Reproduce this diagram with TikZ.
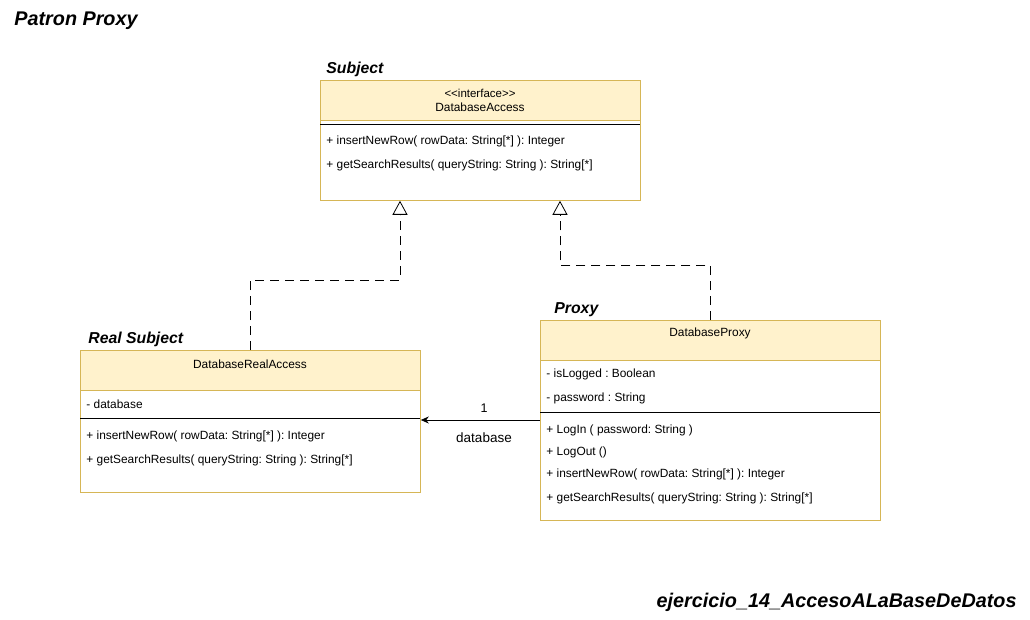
\documentclass[tikz,border=0pt]{standalone}
\usepackage{fontspec}
\setmainfont{Liberation Sans}
\usetikzlibrary{arrows.meta, calc, positioning}

\definecolor{umlfill}{HTML}{FFF2CC}
\definecolor{umlline}{HTML}{D6B656}
\frenchspacing

\tikzset{
  head/.style={draw=umlline, fill=umlfill, minimum height=40, inner sep=0, anchor=north west},
  body/.style={draw=umlline, fill=white, inner sep=0, anchor=north west},
  member/.style={anchor=west, inner sep=0, font=\fontsize{11.9}{13}\selectfont},
  cname/.style={inner sep=0, font=\fontsize{11.9}{13}\selectfont},
  role/.style={anchor=south west, inner sep=0, font=\fontsize{15.8}{17}\selectfont\bfseries\itshape},
  realize/.style={dashed, dash pattern=on 9pt off 6pt, -{Triangle[open, length=14pt, width=15pt]}},
  assoc/.style={-{Stealth[length=8pt, width=7pt]}}
}

\begin{document}
\begin{tikzpicture}[x=1pt, y=-1pt, line width=0.8pt]
\useasboundingbox (0,0) rectangle (1030,620);
\node[anchor=west, inner sep=0, font=\fontsize{19.8}{22}\selectfont\bfseries\itshape] (title) at (14,21) {Patron Proxy};
\node[anchor=east, inner sep=0, font=\fontsize{19.8}{22}\selectfont\bfseries\itshape] (file) at (1017,602) {ejercicio\_14\_AccesoALaBaseDeDatos};

  \begin{scope}
\node[body, minimum width=320, minimum height=80] (subjb) at (320,120) {};
\node[head, minimum width=320] (subj) at (320,80) {};
\node[role] (subjr) at (326,77) {Subject};
\node[cname, font=\fontsize{11.5}{12}\selectfont] at (480,93) {<{}<interface>{}>};
\node[cname] at (480,107) {DatabaseAccess};
\draw (320,124) -- (640,124);
\node[member] at (326,141) {+ insertNewRow( rowData: String[*] ): Integer};
\node[member] at (326,165) {+ getSearchResults( queryString: String ): String[*]};
  \end{scope}

  \begin{scope}
\node[body, minimum width=340, minimum height=102] (realb) at (80,390) {};
\node[head, minimum width=340] (real) at (80,350) {};
\node[role] (realr) at (88,347) {Real Subject};
\node[cname] at (250,364) {DatabaseRealAccess};
\node[member] at (86,404) {- database};
\draw (80,418) -- (420,418);
\node[member] at (86,436) {+ insertNewRow( rowData: String[*] ): Integer};
\node[member] at (86,460) {+ getSearchResults( queryString: String ): String[*]};
  \end{scope}

  \begin{scope}
\node[body, minimum width=340, minimum height=160] (proxb) at (540,360) {};
\node[head, minimum width=340] (prox) at (540,320) {};
\node[role] (proxr) at (554,317) {Proxy};
\node[cname] at (710,333) {DatabaseProxy};
\node[member] at (546,374) {- isLogged : Boolean};
\node[member] at (546,398) {- password : String};
\draw (540,412) -- (880,412);
\node[member] at (546,430) {+ LogIn ( password: String )};
\node[member] at (546,452) {+ LogOut ()};
\node[member] at (546,474) {+ insertNewRow( rowData: String[*] ): Integer};
\node[member] at (546,498) {+ getSearchResults( queryString: String ): String[*]};
  \end{scope}

\coordinate (subjL) at ($(subjb.south west)+(80,0)$);
\coordinate (subjR) at ($(subjb.south west)+(240,0)$);
\coordinate (realE) at ($(realb.north east)+(0,30)$);
\coordinate (proxW) at ($(proxb.north west)+(0,60)$);

\draw[realize] (real.north) -- ++(0,-70) -| (subjL);
\draw[realize] (prox.north) -- ++(0,-55) -| (subjR);
\draw[assoc] (proxW) -- (realE);
\node[cname, font=\fontsize{12.5}{14}\selectfont] (mult) at (484,408) {1};
\node[cname, font=\fontsize{13.5}{15}\selectfont] (rname) at (484,438) {database};
\end{tikzpicture}
\end{document}
